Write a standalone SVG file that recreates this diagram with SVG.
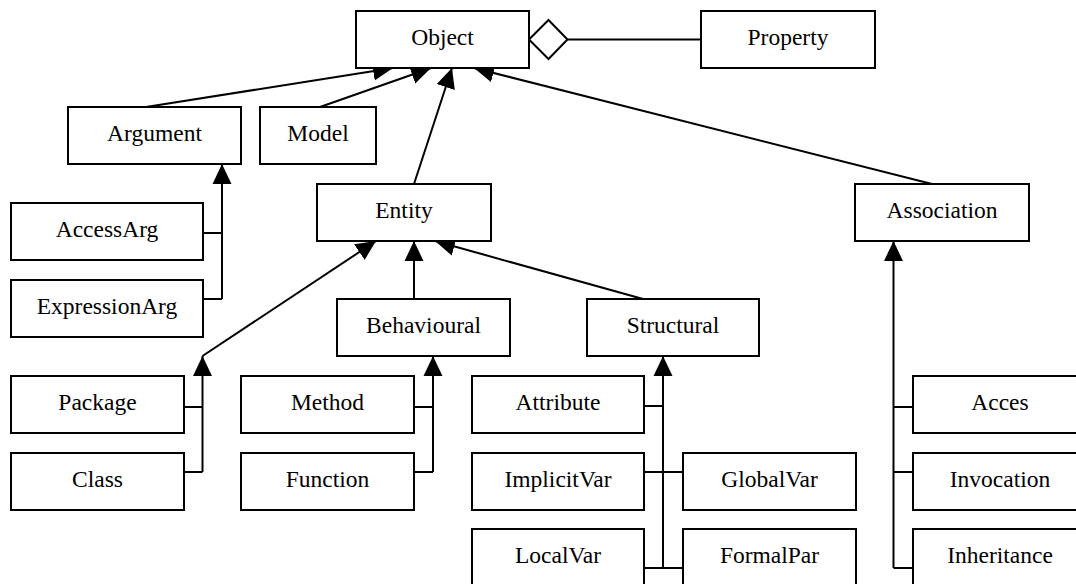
<svg xmlns="http://www.w3.org/2000/svg" width="1076" height="584" viewBox="0 0 1076 584">
<style>
.box{fill:#fff;stroke:#000;stroke-width:2}
.lbl{font-family:"Liberation Serif","Times New Roman",serif;font-size:23.5px;fill:#000;text-anchor:middle}
.ln{fill:none;stroke:#000;stroke-width:2}
.gen{fill:none;stroke:#000;stroke-width:2;marker-end:url(#tri)}
</style>
<defs>
<marker id="tri" markerUnits="userSpaceOnUse" markerWidth="20" markerHeight="20" viewBox="0 0 20 20" refX="20" refY="10" orient="auto">
<path d="M0,0.5 L20,10 L0,19.5 z" fill="#000"/>
</marker>
</defs>
<rect width="1076" height="584" fill="#fff"/>
<g id="connectors">
<path class="gen" d="M146,107 L393,68"/>
<path class="gen" d="M320,107 L431,68"/>
<path class="gen" d="M414,184 L452,68"/>
<path class="gen" d="M932,184 L474,68"/>
<path class="ln" d="M529,39.5 L548.5,20 L567.5,39.5 L548.5,59 Z" fill="#fff" style="fill:#fff"/>
<path class="ln" d="M567.5,39.5 H701"/>
<path class="ln" d="M203,233 H222 M203,299 H222"/>
<path class="gen" d="M222,299 V164"/>
<path class="gen" d="M414,299 V241"/>
<path class="gen" d="M643,299 L435,241"/>
<path class="ln" d="M184,407 H202.5 M184,472 H202.5"/>
<path class="gen" d="M202.5,472 V356"/>
<path class="gen" d="M202.5,356 L376,241"/>
<path class="ln" d="M414,407 H433 M414,472 H433"/>
<path class="gen" d="M433,472 V356"/>
<path class="ln" d="M644,406 H663 M644,472 H683 M644,568 H683"/>
<path class="gen" d="M663,568 V356"/>
<path class="ln" d="M893.5,407 H913 M893.5,472 H913 M893.5,568 H913"/>
<path class="gen" d="M893.5,568 V241"/>
</g>
<g id="Object"><rect class="box" x="356" y="11" width="173" height="57"/><text class="lbl" x="442.5" y="44.5">Object</text></g>
<g id="Property"><rect class="box" x="701" y="11" width="174" height="57"/><text class="lbl" x="788" y="44.5">Property</text></g>
<g id="Argument"><rect class="box" x="68" y="107" width="173" height="57"/><text class="lbl" x="154.5" y="140.5">Argument</text></g>
<g id="Model"><rect class="box" x="260" y="107" width="116" height="57"/><text class="lbl" x="318" y="140.5">Model</text></g>
<g id="Entity"><rect class="box" x="317" y="184" width="174" height="57"/><text class="lbl" x="404" y="217.5">Entity</text></g>
<g id="Association"><rect class="box" x="855" y="184" width="174" height="57"/><text class="lbl" x="942" y="217.5">Association</text></g>
<g id="AccessArg"><rect class="box" x="11" y="203" width="192" height="57"/><text class="lbl" x="107" y="236.5">AccessArg</text></g>
<g id="ExpressionArg"><rect class="box" x="11" y="280" width="192" height="57"/><text class="lbl" x="107" y="313.5">ExpressionArg</text></g>
<g id="Behavioural"><rect class="box" x="337" y="299" width="173" height="57"/><text class="lbl" x="423.5" y="332.5">Behavioural</text></g>
<g id="Structural"><rect class="box" x="587" y="299" width="172" height="57"/><text class="lbl" x="673" y="332.5">Structural</text></g>
<g id="Package"><rect class="box" x="11" y="376" width="173" height="57"/><text class="lbl" x="97.5" y="409.5">Package</text></g>
<g id="Class"><rect class="box" x="11" y="453" width="173" height="57"/><text class="lbl" x="97.5" y="486.5">Class</text></g>
<g id="Method"><rect class="box" x="241" y="376" width="173" height="57"/><text class="lbl" x="327.5" y="409.5">Method</text></g>
<g id="Function"><rect class="box" x="241" y="453" width="173" height="57"/><text class="lbl" x="327.5" y="486.5">Function</text></g>
<g id="Attribute"><rect class="box" x="472" y="376" width="172" height="57"/><text class="lbl" x="558" y="409.5">Attribute</text></g>
<g id="ImplicitVar"><rect class="box" x="472" y="453" width="172" height="57"/><text class="lbl" x="558" y="486.5">ImplicitVar</text></g>
<g id="LocalVar"><rect class="box" x="472" y="529" width="172" height="57"/><text class="lbl" x="558" y="562.5">LocalVar</text></g>
<g id="GlobalVar"><rect class="box" x="683" y="453" width="173" height="57"/><text class="lbl" x="769.5" y="486.5">GlobalVar</text></g>
<g id="FormalPar"><rect class="box" x="683" y="529" width="173" height="57"/><text class="lbl" x="769.5" y="562.5">FormalPar</text></g>
<g id="Acces"><rect class="box" x="913" y="376" width="174" height="57"/><text class="lbl" x="1000" y="409.5">Acces</text></g>
<g id="Invocation"><rect class="box" x="913" y="453" width="174" height="57"/><text class="lbl" x="1000" y="486.5">Invocation</text></g>
<g id="Inheritance"><rect class="box" x="913" y="529" width="174" height="57"/><text class="lbl" x="1000" y="562.5">Inheritance</text></g>
</svg>
